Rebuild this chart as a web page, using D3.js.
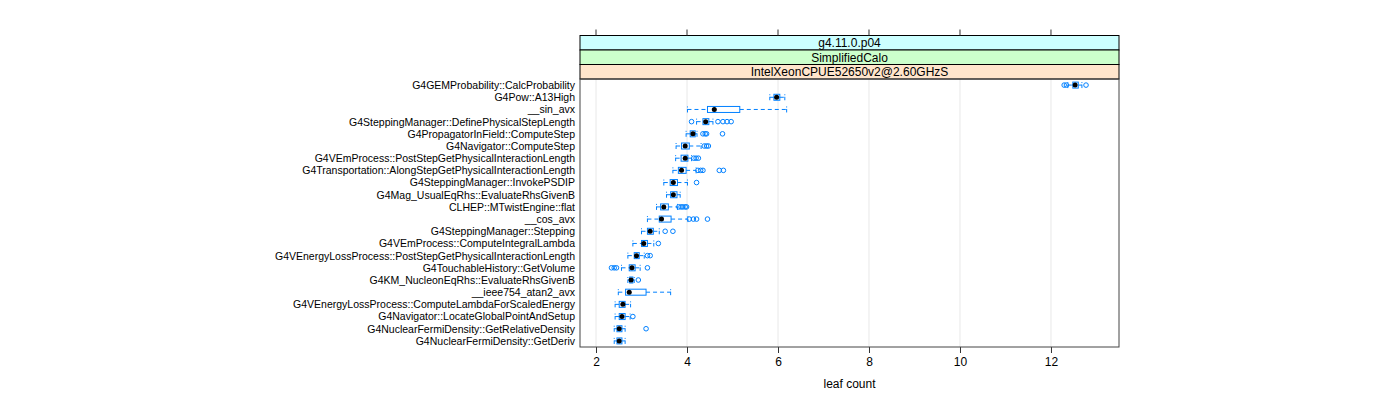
<!DOCTYPE html>
<html><head><meta charset="utf-8">
<script src="https://cdn.jsdelivr.net/npm/d3@7"></script>
<style>body{margin:0;background:#fff}svg{display:block}</style>
</head><body><svg id="c" width="1400" height="400"></svg>
<script>
const categories = [
  "G4GEMProbability::CalcProbability",
  "G4Pow::A13High",
  "__sin_avx",
  "G4SteppingManager::DefinePhysicalStepLength",
  "G4PropagatorInField::ComputeStep",
  "G4Navigator::ComputeStep",
  "G4VEmProcess::PostStepGetPhysicalInteractionLength",
  "G4Transportation::AlongStepGetPhysicalInteractionLength",
  "G4SteppingManager::InvokePSDIP",
  "G4Mag_UsualEqRhs::EvaluateRhsGivenB",
  "CLHEP::MTwistEngine::flat",
  "__cos_avx",
  "G4SteppingManager::Stepping",
  "G4VEmProcess::ComputeIntegralLambda",
  "G4VEnergyLossProcess::PostStepGetPhysicalInteractionLength",
  "G4TouchableHistory::GetVolume",
  "G4KM_NucleonEqRhs::EvaluateRhsGivenB",
  "__ieee754_atan2_avx",
  "G4VEnergyLossProcess::ComputeLambdaForScaledEnergy",
  "G4Navigator::LocateGlobalPointAndSetup",
  "G4NuclearFermiDensity::GetRelativeDensity",
  "G4NuclearFermiDensity::GetDeriv"
];
const lowerWhisker = [12.37, 5.82, 4.01, 4.21, 3.98, 3.76, 3.75, 3.69, 3.49, 3.55, 3.33, 3.13, 3.00, 2.81, 2.70, 2.56, 2.70, 2.49, 2.42, 2.42, 2.40, 2.40];
const q1 =           [12.48, 5.91, 4.45, 4.35, 4.07, 3.88, 3.87, 3.81, 3.63, 3.64, 3.42, 3.39, 3.13, 3.00, 2.84, 2.73, 2.74, 2.65, 2.51, 2.51, 2.46, 2.46];
const medians =      [12.53, 5.97, 4.60, 4.41, 4.13, 3.96, 3.96, 3.88, 3.70, 3.70, 3.49, 3.44, 3.19, 3.05, 2.89, 2.79, 2.77, 2.73, 2.59, 2.57, 2.51, 2.51];
const q3 =           [12.60, 6.04, 5.16, 4.48, 4.18, 4.05, 4.02, 3.98, 3.79, 3.78, 3.59, 3.65, 3.26, 3.13, 2.95, 2.86, 2.81, 3.10, 2.64, 2.64, 2.57, 2.57];
const upperWhisker = [12.68, 6.15, 6.19, 4.57, 4.22, 4.31, 4.10, 4.20, 4.01, 3.85, 3.79, 4.02, 3.39, 3.27, 3.06, 2.97, 2.84, 3.64, 2.76, 2.75, 2.64, 2.64];
const outliers = [
  [12.29, 12.34, 12.77],
  [],
  [],
  [4.10, 4.68, 4.79, 4.88, 4.97],
  [4.35, 4.40, 4.43, 4.78],
  [4.38, 4.43, 4.47],
  [4.15, 4.20, 4.25],
  [4.24, 4.30, 4.35, 4.71, 4.80],
  [4.21],
  [],
  [3.82, 3.87, 3.91, 3.96, 3.99],
  [4.05, 4.14, 4.21, 4.45],
  [3.52, 3.69],
  [3.37],
  [3.13, 3.19],
  [2.34, 2.40, 2.45, 3.13],
  [2.93],
  [],
  [],
  [2.81],
  [3.10],
  []
];
const xTicks = [2, 4, 6, 8, 10, 12];
const stripLabels = ["g4.11.0.p04", "SimplifiedCalo", "IntelXeonCPUE52650v2@2.60GHzS"];
const stripColors = ["#ccffff", "#ccffcc", "#ffe5cc"];
const xTitle = "leaf count";

const blue = "#0080ff";
const font = "'Liberation Sans', Arial, Helvetica, sans-serif";
const L = 580, R = 1119, T = 79, B = 347;
const svg = d3.select("#c");
const x = d3.scaleLinear().domain([1.648, 13.495]).range([L, R]);
const y = d3.scalePoint().domain(categories).range([T, B]).padding(0.5);
const bh = 6;

// grid
svg.append("g").selectAll("line").data(xTicks).join("line")
  .attr("x1", d => x(d)).attr("x2", d => x(d)).attr("y1", T).attr("y2", B)
  .attr("stroke", "#e8e8e8").attr("stroke-width", 1);

// strips
const sh = (T - 35.5) / stripLabels.length;
stripLabels.forEach((s, i) => {
  const y0 = 35.5 + i * sh;
  svg.append("rect").attr("x", L).attr("y", y0).attr("width", R - L).attr("height", sh)
    .attr("fill", stripColors[i]).attr("stroke", "#000").attr("stroke-width", 1);
  svg.append("text").attr("x", (L + R) / 2).attr("y", y0 + sh / 2 + 4.3)
    .attr("text-anchor", "middle").attr("font-family", font).attr("font-size", 12)
    .attr("fill", "#000").text(s);
});

// top ticks
svg.append("g").selectAll("line").data(xTicks).join("line")
  .attr("x1", d => x(d)).attr("x2", d => x(d)).attr("y1", 29.5).attr("y2", 35.5)
  .attr("stroke", "#333");

// bottom axis
const ax = d3.axisBottom(x).tickValues(xTicks).tickSize(6).tickPadding(4).tickSizeOuter(0);
const gax = svg.append("g").attr("transform", `translate(0,${B})`).call(ax);
gax.select(".domain").remove();
gax.selectAll("line").attr("stroke", "#333");
gax.selectAll("text").attr("font-family", font).attr("font-size", 12).attr("fill", "#000");

svg.append("text").attr("x", (L + R) / 2).attr("y", 388).attr("text-anchor", "middle")
  .attr("font-family", font).attr("font-size", 12).attr("fill", "#000").text(xTitle);

// y labels
const ay = d3.axisLeft(y).tickSize(0).tickPadding(5);
const gay = svg.append("g").attr("transform", `translate(${L},0)`).call(ay);
gay.select(".domain").remove();
gay.selectAll("text").attr("font-family", font).attr("font-size", 10.5).attr("fill", "#000");

// boxes
const rows = categories.map((c, i) => ({c, lo: lowerWhisker[i], a: q1[i], m: medians[i], b: q3[i], hi: upperWhisker[i], out: outliers[i]}));
const g = svg.append("g");
rows.forEach(r => {
  const yy = y(r.c);
  const gg = g.append("g");
  gg.append("line").attr("x1", x(r.lo)).attr("x2", x(r.a)).attr("y1", yy).attr("y2", yy)
    .attr("stroke", blue).attr("stroke-dasharray", "4,3");
  gg.append("line").attr("x1", x(r.b)).attr("x2", x(r.hi)).attr("y1", yy).attr("y2", yy)
    .attr("stroke", blue).attr("stroke-dasharray", "4,3");
  [r.lo, r.hi].forEach(v => {
    gg.append("line").attr("x1", x(v)).attr("x2", x(v)).attr("y1", yy - bh / 2).attr("y2", yy + bh / 2)
      .attr("stroke", blue).attr("stroke-dasharray", "1,1.5,4");
  });
  gg.append("rect").attr("x", x(r.a)).attr("y", yy - bh / 2).attr("width", Math.max(0.5, x(r.b) - x(r.a)))
    .attr("height", bh).attr("fill", "none").attr("stroke", blue);
  gg.selectAll("circle.o").data(r.out).join("circle").attr("class", "o")
    .attr("cx", d => x(d)).attr("cy", yy).attr("r", 2.3)
    .attr("fill", "none").attr("stroke", blue);
  gg.append("circle").attr("cx", x(r.m)).attr("cy", yy).attr("r", 2.5).attr("fill", "#000");
});

// panel border
svg.append("rect").attr("x", L).attr("y", T).attr("width", R - L).attr("height", B - T)
  .attr("fill", "none").attr("stroke", "#444").attr("stroke-width", 1);
</script></body></html>
